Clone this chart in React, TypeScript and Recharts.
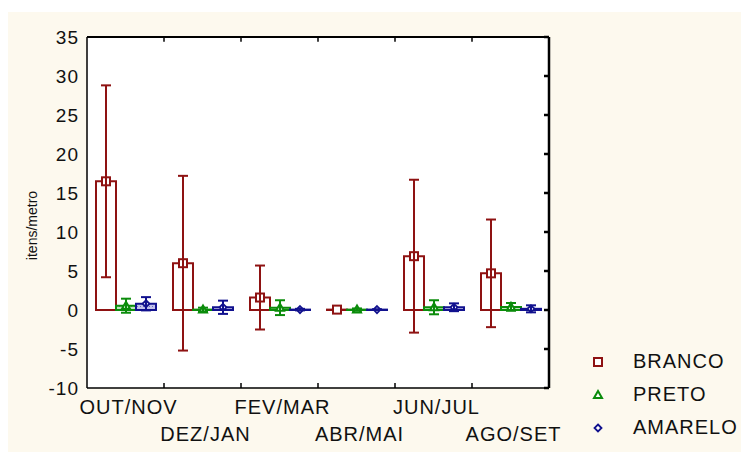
import { Bar, CartesianGrid, ComposedChart, ErrorBar, Legend, ReferenceLine, XAxis, YAxis } from 'recharts'

const periods = ['OUT/NOV', 'DEZ/JAN', 'FEV/MAR', 'ABR/MAI', 'JUN/JUL', 'AGO/SET']
const branco = [16.5, 6.0, 1.6, 0.05, 6.9, 4.7]
const brancoErr = [12.3, 11.2, 4.1, 0, 9.8, 6.9]
const preto = [0.55, 0.05, 0.3, 0.05, 0.35, 0.4]
const pretoErr = [0.9, 0.25, 0.95, 0.15, 0.9, 0.5]
const amarelo = [0.8, 0.35, 0.05, 0.05, 0.35, 0.15]
const amareloErr = [0.85, 0.85, 0.1, 0.05, 0.5, 0.45]
const yTicks = [-10, -5, 0, 5, 10, 15, 20, 25, 30, 35]
const boundaryTicks = [1, 2, 3, 4, 5]
const seriesNames = ['BRANCO', 'PRETO', 'AMARELO']

const RED = '#8e1212'
const GREEN = '#0b8c0b'
const BLUE = '#11118e'
const FONT = 'Arial, "Liberation Sans", sans-serif'

const data = periods.map((period, i) => ({
  period,
  branco: branco[i],
  brancoErr: brancoErr[i],
  preto: preto[i],
  pretoErr: pretoErr[i],
  amarelo: amarelo[i],
  amareloErr: amareloErr[i],
}))

const Marker = ({ kind, cx, cy, color }: { kind: string; cx: number; cy: number; color: string }) => {
  if (kind === 'square')
    return <rect x={cx - 4} y={cy - 4} width={8} height={8} fill="#fff" stroke={color} strokeWidth={2} />
  if (kind === 'triangle')
    return <path d={`M${cx},${cy - 4}L${cx + 4},${cy + 3}L${cx - 4},${cy + 3}Z`} fill="#fff" stroke={color} strokeWidth={2} />
  return <path d={`M${cx},${cy - 3.5}L${cx + 3.5},${cy}L${cx},${cy + 3.5}L${cx - 3.5},${cy}Z`} fill="#fff" stroke={color} strokeWidth={1.8} />
}

const boxShape = (kind: string, color: string, fill: string) => (props: any) => {
  const { x, y, width, height } = props
  return (
    <g>
      <path d={`M${x},${y}h${width}v${height}h${-width}Z`} fill={fill} stroke={color} strokeWidth={2} />
      <Marker kind={kind} cx={x + width / 2} cy={y} color={color} />
    </g>
  )
}

const markerKinds = ['square', 'triangle', 'diamond']
const colors = [RED, GREEN, BLUE]

const PeriodTick = (props: any) => {
  const { x, y, payload, index } = props
  return (
    <text x={x + 3} y={y + (index % 2 === 0 ? 26 : 53)} textAnchor="middle" fontSize={20} letterSpacing={1} fill="#111" fontFamily={FONT}>
      {payload.value}
    </text>
  )
}

const NoTick = () => <g />

const LegendBox = () => (
  <div style={{ fontFamily: FONT, fontSize: 20, letterSpacing: 1, color: '#111' }}>
    {seriesNames.map((name, i) => (
      <div key={name} style={{ display: 'flex', alignItems: 'center', height: 33 }}>
        <svg width={16} height={16} style={{ display: 'block' }}>
          <Marker kind={markerKinds[i]} cx={8} cy={8} color={colors[i]} />
        </svg>
        <span style={{ marginLeft: 27 }}>{name}</span>
      </div>
    ))}
  </div>
)

export default function App() {
  return (
    <div style={{ position: 'absolute', left: 8, top: 12, width: 733, height: 440, background: '#fdf9ee' }}>
      <ComposedChart
        width={733}
        height={440}
        data={data}
        margin={{ top: 25, right: 192, bottom: 0, left: 0 }}
        barSize={20}
        barGap={0}
      >
        <defs>
          <pattern id="pretoFill" width={3} height={3} patternUnits="userSpaceOnUse">
            <rect width={3} height={3} fill="#bfe3bf" />
            <rect width={1} height={1} fill="#5fb55f" />
          </pattern>
          <pattern id="amareloFill" width={3} height={3} patternUnits="userSpaceOnUse">
            <rect width={3} height={3} fill="#c2c2ea" />
            <rect width={1} height={1} fill="#6c6cc0" />
          </pattern>
        </defs>
        <CartesianGrid xAxisId="cat" yAxisId="left" fill="#fff" horizontal={false} vertical={false} />
        <XAxis
          xAxisId="frameBottom"
          dataKey="none"
          orientation="bottom"
          type="number"
          domain={[0, 6]}
          ticks={boundaryTicks}
          allowDataOverflow
          mirror
          height={1}
          tickSize={5}
          tick={NoTick}
          stroke="#000"
          strokeWidth={1.5}
        />
        <XAxis
          xAxisId="cat"
          dataKey="period"
          height={64}
          axisLine={false}
          tickLine={false}
          tickSize={0}
          tickMargin={0}
          interval={0}
          tick={PeriodTick}
        />
        <YAxis
          yAxisId="left"
          domain={[-10, 35]}
          ticks={yTicks}
          allowDataOverflow
          width={79}
          tickLine={false}
          tickSize={0}
          tickMargin={8}
          stroke="#000"
          strokeWidth={1.5}
          tick={{ fontSize: 19, fill: '#111', fontFamily: FONT, letterSpacing: 1 }}
          label={{
            content: (p: any) => {
              const vb = p.viewBox
              return (
                <text
                  transform={`translate(${vb.x + 23.5}, ${vb.y + vb.height / 2 + 13}) rotate(-90)`}
                  textAnchor="middle"
                  dominantBaseline="central"
                  fontSize={14}
                  fill="#111"
                  fontFamily={FONT}
                >
                  itens/metro
                </text>
              )
            },
          }}
        />
        <YAxis
          yAxisId="right"
          orientation="right"
          domain={[-10, 35]}
          ticks={yTicks}
          allowDataOverflow
          mirror
          width={1}
          tickSize={5}
          tick={NoTick}
          stroke="#000"
          strokeWidth={2.5}
        />
        <ReferenceLine xAxisId="frameBottom" yAxisId="left" y={35} stroke="#000" strokeWidth={2} ifOverflow="visible" />
        {boundaryTicks.map((t) => (
          <ReferenceLine
            key={t}
            xAxisId="frameBottom"
            yAxisId="left"
            segment={[{ x: t, y: 35 }, { x: t, y: 34.4 }]}
            stroke="#000"
            strokeWidth={1.5}
            ifOverflow="visible"
          />
        ))}
        <Bar xAxisId="cat" yAxisId="left" dataKey="branco" name="BRANCO" fill="#fff" stroke={RED} isAnimationActive={false} shape={boxShape('square', RED, '#fff')}>
          <ErrorBar dataKey="brancoErr" width={5} stroke={RED} strokeWidth={2} direction="y" />
        </Bar>
        <Bar xAxisId="cat" yAxisId="left" dataKey="preto" name="PRETO" fill="url(#pretoFill)" stroke={GREEN} isAnimationActive={false} shape={boxShape('triangle', GREEN, 'url(#pretoFill)')}>
          <ErrorBar dataKey="pretoErr" width={5} stroke={GREEN} strokeWidth={2} direction="y" />
        </Bar>
        <Bar xAxisId="cat" yAxisId="left" dataKey="amarelo" name="AMARELO" fill="url(#amareloFill)" stroke={BLUE} isAnimationActive={false} shape={boxShape('diamond', BLUE, 'url(#amareloFill)')}>
          <ErrorBar dataKey="amareloErr" width={5} stroke={BLUE} strokeWidth={2} direction="y" />
        </Bar>
        <Legend
          layout="horizontal"
          verticalAlign="middle"
          align="center"
          wrapperStyle={{ left: 582, top: 333, width: 151 }}
          content={LegendBox}
        />
      </ComposedChart>
    </div>
  )
}
